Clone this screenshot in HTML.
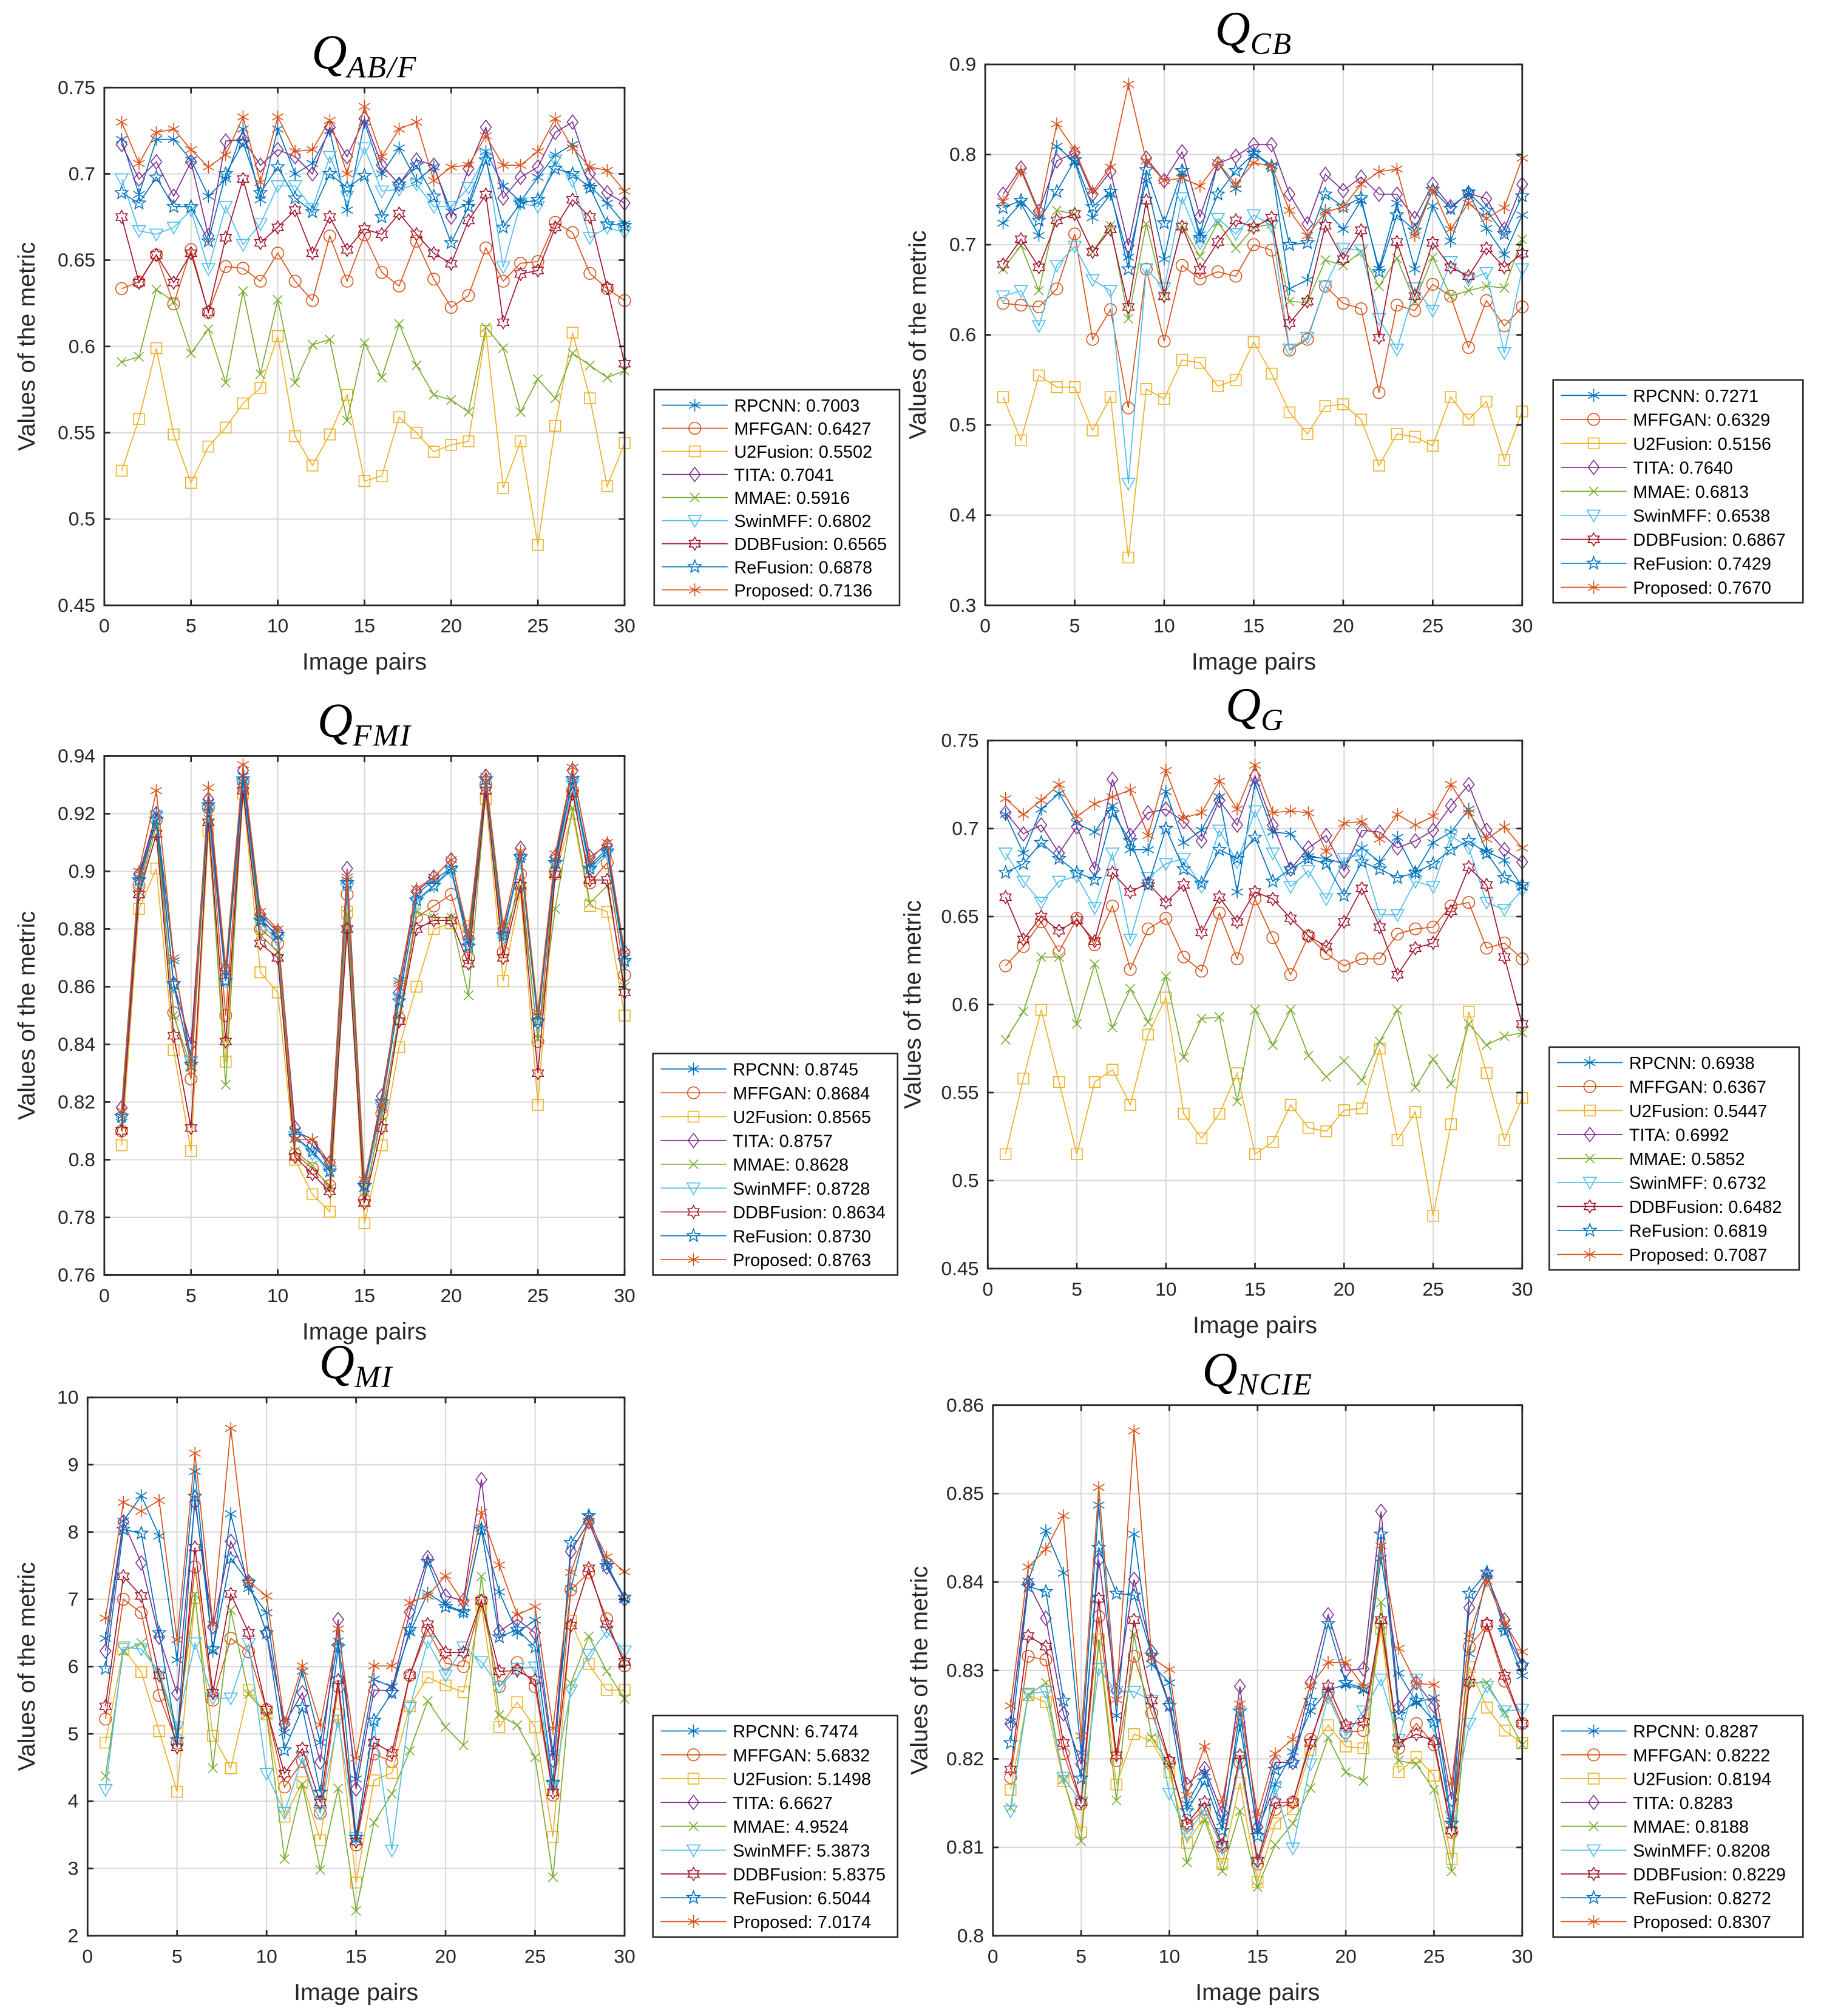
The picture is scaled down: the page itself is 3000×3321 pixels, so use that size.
<!DOCTYPE html>
<html><head><meta charset="utf-8"><title>Fusion metrics</title>
<style>html,body{margin:0;padding:0;background:#fff}svg{display:block}</style></head>
<body>
<svg id="fig" xmlns="http://www.w3.org/2000/svg" width="3000" height="3321" viewBox="0 0 1414 1565.3" preserveAspectRatio="none"></svg>
<script>
const methods = ["RPCNN","MFFGAN","U2Fusion","TITA","MMAE","SwinMFF","DDBFusion","ReFusion","Proposed"];
const colors = ["#0072BD","#D95319","#EDB120","#7E2F8E","#77AC30","#4DBEEE","#A2142F","#0072BD","#D95319"];
const markers = ["ast","o","s","d","x","v","h","p","ast"];
const xCats = Array.from({length:30},(_, i)=>i+1);

const qabfMeans = ["0.7003","0.6427","0.5502","0.7041","0.5916","0.6802","0.6565","0.6878","0.7136"];
const qcbMeans = ["0.7271","0.6329","0.5156","0.7640","0.6813","0.6538","0.6867","0.7429","0.7670"];
const qfmiMeans = ["0.8745","0.8684","0.8565","0.8757","0.8628","0.8728","0.8634","0.8730","0.8763"];
const qgMeans = ["0.6938","0.6367","0.5447","0.6992","0.5852","0.6732","0.6482","0.6819","0.7087"];
const qmiMeans = ["6.7474","5.6832","5.1498","6.6627","4.9524","5.3873","5.8375","6.5044","7.0174"];
const qncieMeans = ["0.8287","0.8222","0.8194","0.8283","0.8188","0.8208","0.8229","0.8272","0.8307"];

// Q_AB/F
const qabfRPCNN=[0.72,0.688,0.72,0.72,0.708,0.687,0.697,0.726,0.685,0.726,0.70,0.706,0.725,0.679,0.73,0.70,0.715,0.696,0.704,0.678,0.683,0.713,0.693,0.684,0.698,0.711,0.717,0.693,0.683,0.671];
const qabfMFFGAN=[0.6335,0.6374,0.6531,0.6246,0.6561,0.6197,0.6463,0.6453,0.6378,0.6541,0.6378,0.6266,0.664,0.6378,0.6646,0.6429,0.635,0.661,0.639,0.6226,0.6295,0.6571,0.6378,0.6482,0.6492,0.6719,0.666,0.6423,0.6335,0.6266];
const qabfU2Fusion=[0.528,0.558,0.599,0.549,0.521,0.542,0.553,0.567,0.576,0.606,0.548,0.531,0.549,0.572,0.522,0.525,0.559,0.550,0.539,0.543,0.545,0.609,0.518,0.545,0.485,0.554,0.608,0.570,0.519,0.544];
const qabfTITA=[0.717,0.697,0.707,0.687,0.707,0.664,0.719,0.72,0.705,0.714,0.71,0.70,0.727,0.71,0.732,0.705,0.694,0.708,0.705,0.675,0.703,0.727,0.686,0.698,0.704,0.724,0.73,0.70,0.689,0.683];
const qabfMMAE=[0.591,0.594,0.633,0.626,0.596,0.610,0.579,0.632,0.584,0.627,0.579,0.601,0.604,0.557,0.602,0.582,0.613,0.589,0.572,0.569,0.562,0.611,0.599,0.562,0.581,0.570,0.596,0.589,0.582,0.586];
const qabfSwinMFF=[0.697,0.667,0.665,0.669,0.679,0.645,0.681,0.659,0.671,0.693,0.693,0.68,0.71,0.687,0.715,0.69,0.691,0.694,0.681,0.681,0.692,0.711,0.646,0.683,0.681,0.708,0.696,0.663,0.669,0.666];
const qabfDDBFusion=[0.675,0.637,0.653,0.637,0.654,0.620,0.663,0.697,0.660,0.669,0.679,0.654,0.675,0.656,0.668,0.665,0.677,0.665,0.654,0.648,0.673,0.688,0.614,0.642,0.644,0.669,0.685,0.675,0.634,0.590];
const qabfReFusion=[0.689,0.683,0.698,0.681,0.681,0.661,0.70,0.718,0.689,0.704,0.686,0.678,0.70,0.692,0.699,0.675,0.694,0.705,0.687,0.66,0.681,0.708,0.669,0.683,0.685,0.703,0.70,0.692,0.671,0.67];
const qabfProposed=[0.730,0.706,0.724,0.726,0.714,0.704,0.711,0.733,0.695,0.733,0.713,0.714,0.731,0.70,0.739,0.71,0.726,0.73,0.696,0.704,0.705,0.722,0.705,0.705,0.713,0.732,0.715,0.704,0.702,0.69];

// Q_CB
const qcbRPCNN=[0.724,0.746,0.710,0.809,0.792,0.730,0.756,0.686,0.771,0.684,0.780,0.711,0.791,0.762,0.802,0.788,0.651,0.661,0.738,0.717,0.749,0.673,0.746,0.673,0.743,0.704,0.758,0.718,0.689,0.733];
const qcbMFFGAN=[0.635,0.633,0.631,0.651,0.712,0.595,0.628,0.519,0.673,0.593,0.677,0.662,0.670,0.665,0.700,0.694,0.583,0.595,0.654,0.635,0.629,0.536,0.633,0.627,0.656,0.643,0.586,0.638,0.610,0.631];
const qcbU2Fusion=[0.531,0.483,0.555,0.542,0.542,0.494,0.531,0.353,0.540,0.529,0.572,0.569,0.543,0.550,0.592,0.557,0.514,0.490,0.521,0.523,0.506,0.455,0.490,0.487,0.477,0.531,0.506,0.526,0.461,0.515];
const qcbTITA=[0.756,0.785,0.737,0.793,0.802,0.756,0.781,0.699,0.796,0.771,0.803,0.731,0.790,0.798,0.811,0.811,0.756,0.723,0.778,0.760,0.775,0.756,0.756,0.729,0.767,0.742,0.757,0.751,0.717,0.767];
const qcbMMAE=[0.673,0.699,0.649,0.738,0.734,0.692,0.721,0.618,0.723,0.643,0.721,0.687,0.725,0.696,0.719,0.723,0.637,0.636,0.683,0.677,0.692,0.654,0.685,0.637,0.686,0.643,0.649,0.654,0.652,0.706];
const qcbSwinMFF=[0.643,0.649,0.610,0.677,0.698,0.661,0.649,0.435,0.673,0.652,0.752,0.702,0.729,0.712,0.733,0.721,0.584,0.597,0.654,0.696,0.694,0.618,0.584,0.652,0.627,0.681,0.661,0.669,0.580,0.673];
const qcbDDBFusion=[0.678,0.706,0.675,0.727,0.734,0.692,0.717,0.631,0.749,0.643,0.720,0.672,0.703,0.727,0.719,0.730,0.613,0.637,0.721,0.684,0.716,0.597,0.703,0.643,0.702,0.675,0.665,0.696,0.675,0.690];
const qcbReFusion=[0.741,0.749,0.727,0.759,0.794,0.742,0.759,0.673,0.783,0.724,0.782,0.708,0.756,0.782,0.801,0.787,0.700,0.702,0.756,0.742,0.752,0.670,0.733,0.716,0.761,0.740,0.758,0.738,0.712,0.754];
const qcbProposed=[0.748,0.782,0.735,0.834,0.805,0.759,0.786,0.878,0.793,0.771,0.774,0.765,0.791,0.767,0.791,0.787,0.738,0.710,0.736,0.742,0.767,0.781,0.784,0.710,0.761,0.717,0.746,0.729,0.741,0.796];

// Q_FMI
const qfmiRPCNN=[.815,.898,.920,.869,.835,.924,.865,.933,.884,.877,.810,.807,.797,.897,.790,.818,.862,.892,.897,.901,.876,.931,.878,.905,.850,.904,.932,.902,.908,.870];
const qfmiMFFGAN=[.810,.895,.918,.851,.828,.922,.850,.931,.880,.875,.802,.797,.791,.892,.786,.816,.849,.884,.888,.892,.870,.930,.872,.899,.841,.900,.928,.896,.903,.864];
const qfmiU2Fusion=[.805,.887,.901,.838,.803,.914,.834,.927,.865,.858,.800,.788,.782,.886,.778,.805,.839,.860,.880,.882,.881,.925,.862,.893,.819,.899,.920,.888,.886,.850];
const qfmiTITA=[.818,.899,.920,.861,.840,.925,.866,.935,.885,.879,.811,.805,.799,.901,.792,.822,.858,.893,.898,.904,.877,.933,.880,.908,.848,.905,.935,.905,.909,.872];
const qfmiMMAE=[.812,.893,.916,.850,.832,.918,.826,.930,.878,.872,.803,.798,.790,.885,.787,.815,.850,.886,.884,.884,.857,.928,.877,.895,.842,.887,.922,.889,.895,.860];
const qfmiSwinMFF=[.814,.896,.919,.860,.834,.921,.862,.930,.882,.876,.808,.802,.796,.894,.790,.818,.856,.889,.895,.900,.875,.931,.877,.904,.847,.902,.930,.900,.906,.868];
const qfmiDDBFusion=[.810,.892,.913,.843,.811,.917,.841,.928,.875,.870,.801,.795,.789,.880,.785,.811,.848,.880,.883,.883,.868,.928,.870,.895,.830,.899,.927,.897,.897,.858];
const qfmiReFusion=[.815,.897,.918,.861,.833,.923,.862,.932,.883,.878,.808,.803,.796,.896,.791,.820,.855,.890,.895,.901,.874,.932,.878,.905,.848,.903,.932,.901,.907,.869];
const qfmiProposed=[.817,.900,.928,.870,.832,.929,.867,.937,.886,.880,.807,.807,.799,.898,.793,.819,.861,.894,.898,.904,.878,.933,.881,.907,.851,.906,.936,.904,.910,.872];

// Q_G
const qgRPCNN=[0.708,0.686,0.711,0.720,0.703,0.698,0.713,0.688,0.688,0.721,0.692,0.699,0.718,0.664,0.726,0.698,0.697,0.684,0.683,0.680,0.689,0.681,0.695,0.675,0.692,0.698,0.711,0.687,0.682,0.667];
const qgMFFGAN=[0.622,0.633,0.647,0.630,0.649,0.634,0.656,0.620,0.643,0.649,0.627,0.619,0.652,0.626,0.660,0.638,0.617,0.639,0.629,0.622,0.626,0.626,0.640,0.643,0.644,0.656,0.658,0.632,0.635,0.626];
const qgU2Fusion=[0.515,0.558,0.597,0.556,0.515,0.556,0.563,0.543,0.583,0.604,0.538,0.524,0.538,0.561,0.515,0.522,0.543,0.530,0.528,0.540,0.541,0.575,0.523,0.539,0.480,0.532,0.596,0.561,0.523,0.547];
const qgTITA=[0.709,0.697,0.702,0.686,0.701,0.677,0.728,0.696,0.709,0.711,0.704,0.693,0.716,0.702,0.730,0.702,0.677,0.689,0.696,0.676,0.699,0.698,0.689,0.693,0.699,0.713,0.725,0.699,0.688,0.681];
const qgMMAE=[0.580,0.596,0.627,0.627,0.589,0.623,0.587,0.609,0.590,0.616,0.570,0.592,0.593,0.545,0.597,0.577,0.597,0.571,0.559,0.568,0.557,0.579,0.597,0.553,0.569,0.555,0.589,0.577,0.582,0.584];
const qgSwinMFF=[0.686,0.670,0.658,0.670,0.673,0.655,0.686,0.637,0.672,0.680,0.683,0.667,0.699,0.681,0.710,0.686,0.667,0.676,0.660,0.683,0.685,0.651,0.651,0.670,0.667,0.696,0.689,0.658,0.654,0.665];
const qgDDBFusion=[0.661,0.637,0.650,0.642,0.648,0.636,0.675,0.664,0.669,0.658,0.668,0.641,0.661,0.647,0.664,0.660,0.649,0.639,0.633,0.647,0.666,0.644,0.617,0.632,0.635,0.653,0.678,0.668,0.627,0.589];
const qgReFusion=[0.675,0.680,0.692,0.683,0.675,0.671,0.709,0.693,0.668,0.700,0.677,0.669,0.688,0.683,0.695,0.670,0.677,0.683,0.680,0.662,0.681,0.677,0.672,0.675,0.680,0.688,0.693,0.686,0.672,0.668];
const qgProposed=[0.717,0.708,0.716,0.725,0.707,0.714,0.718,0.722,0.696,0.733,0.706,0.709,0.727,0.711,0.736,0.709,0.710,0.709,0.687,0.703,0.704,0.694,0.708,0.702,0.707,0.725,0.709,0.694,0.701,0.689];

// Q_MI
const qmiRPCNN=[6.42,8.16,8.54,7.94,6.10,8.90,6.23,8.27,7.16,6.80,5.02,5.93,4.87,6.38,4.33,5.81,5.70,6.50,7.09,6.92,6.81,8.06,7.11,6.50,6.69,4.72,7.16,8.23,7.53,7.00];
const qmiMFFGAN=[5.22,7.00,6.80,5.57,4.86,7.48,5.50,6.42,6.22,5.36,4.21,4.59,3.82,5.70,3.35,4.70,4.59,5.87,6.54,6.05,6.00,6.98,5.70,6.06,5.70,4.09,7.14,7.40,6.71,6.01];
const qmiU2Fusion=[4.87,6.26,5.92,5.04,4.14,7.02,4.97,4.49,5.65,5.29,3.77,4.28,3.42,5.29,2.79,4.31,4.42,5.41,5.84,5.72,5.62,6.91,5.10,5.47,5.10,3.47,6.68,6.04,5.65,5.65];
const qmiTITA=[6.23,8.15,7.54,6.44,5.60,8.44,6.59,7.86,7.26,6.50,5.15,5.61,4.58,6.70,4.18,5.65,5.64,6.81,7.62,7.05,6.98,8.78,6.52,6.70,6.50,4.61,7.71,8.15,7.48,7.00];
const qmiMMAE=[4.37,6.23,6.35,5.87,5.03,7.07,4.49,6.84,5.59,5.29,3.14,4.25,2.98,4.19,2.37,3.68,4.11,4.75,5.49,5.10,4.83,7.34,5.28,5.13,4.65,2.87,5.75,6.45,5.93,5.52];
const qmiSwinMFF=[4.17,6.29,6.26,5.92,5.10,6.35,5.53,5.53,6.34,4.41,3.83,4.65,3.83,5.20,3.46,5.15,3.27,5.39,6.37,5.87,6.29,6.07,5.70,5.97,5.99,4.22,5.65,6.18,6.52,6.23];
const qmiDDBFusion=[5.41,7.34,7.05,5.87,4.80,7.77,5.61,7.08,6.50,5.36,4.41,4.78,3.98,5.80,3.40,4.87,4.72,5.87,6.63,6.21,6.21,6.98,5.93,5.94,5.80,4.13,6.61,7.46,6.63,6.07];
const qmiReFusion=[5.97,8.04,7.98,6.50,4.91,8.53,6.26,7.61,7.25,6.50,4.76,5.39,4.13,6.29,3.46,5.20,5.61,6.55,7.56,6.89,6.81,8.04,6.44,6.55,6.29,4.28,7.84,8.24,7.50,7.03];
const qmiProposed=[6.72,8.44,8.31,8.47,6.40,9.17,6.63,9.54,7.26,7.05,5.17,6.01,5.13,6.56,4.64,6.01,6.01,6.95,7.05,7.35,6.95,8.29,7.51,6.77,6.89,5.08,7.40,8.16,7.63,7.41];

// Q_NCIE
const qncieRPCNN=[.8242,.8401,.8458,.8410,.8207,.8487,.8249,.8454,.8307,.8286,.8149,.8185,.8129,.8238,.8119,.8171,.8208,.8254,.8278,.8284,.8278,.8427,.8297,.8264,.8269,.8130,.8319,.8409,.8347,.8294];
const qncieMFFGAN=[.8179,.8316,.8312,.8206,.8149,.8361,.8198,.8316,.8252,.8196,.8125,.8143,.8101,.8196,.8081,.8143,.8151,.8222,.8274,.8230,.8232,.8353,.8212,.8240,.8216,.8117,.8327,.8351,.8288,.8240];
const qncieU2Fusion=[.8165,.8272,.8264,.8175,.8117,.8335,.8171,.8228,.8220,.8185,.8105,.8135,.8081,.8173,.8061,.8127,.8143,.8210,.8238,.8214,.8212,.8347,.8185,.8202,.8181,.8087,.8304,.8258,.8232,.8218];
const qncieTITA=[.8240,.8399,.8359,.8251,.8194,.8425,.8277,.8403,.8321,.8262,.8171,.8189,.8139,.8282,.8123,.8196,.8196,.8286,.8363,.8300,.8302,.8480,.8258,.8286,.8260,.8154,.8371,.8407,.8357,.8306];
const qncieMMAE=[.8145,.8272,.8286,.8177,.8107,.8333,.8153,.8341,.8224,.8194,.8083,.8131,.8073,.8141,.8055,.8103,.8127,.8167,.8224,.8185,.8175,.8377,.8198,.8194,.8165,.8073,.8286,.8286,.8252,.8216];
const qncieSwinMFF=[.8141,.8274,.8276,.8179,.8151,.8302,.8276,.8276,.8266,.8161,.8115,.8143,.8099,.8198,.8083,.8167,.8099,.8194,.8270,.8226,.8254,.8290,.8222,.8290,.8238,.8135,.8240,.8282,.8254,.8256];
const qncieDDBFusion=[.8188,.8339,.8327,.8218,.8151,.8381,.8204,.8357,.8266,.8198,.8127,.8151,.8103,.8204,.8085,.8151,.8151,.8218,.8282,.8238,.8242,.8357,.8218,.8228,.8220,.8119,.8286,.8353,.8294,.8240];
const qncieReFusion=[.8218,.8395,.8389,.8266,.8178,.8439,.8387,.8385,.8317,.8260,.8141,.8175,.8119,.8254,.8113,.8188,.8196,.8266,.8353,.8286,.8280,.8454,.8250,.8266,.8242,.8127,.8387,.8411,.8345,.8306];
const qncieProposed=[.8260,.8417,.8437,.8475,.8226,.8507,.8267,.8571,.8314,.8301,.8159,.8214,.8151,.8262,.8137,.8206,.8222,.8283,.8309,.8309,.8282,.8441,.8325,.8285,.8284,.8172,.8339,.8401,.8354,.8321];

const NS="http://www.w3.org/2000/svg";
const svg=document.getElementById('fig');
function el(tag,attrs,parent){const e=document.createElementNS(NS,tag);for(const k in attrs)e.setAttribute(k,attrs[k]);(parent||svg).appendChild(e);return e;}

function marker(g,type,cx,cy,col){
  const sw=0.75;let m;
  if(type==="ast"){
    m=el('g',{stroke:col,'stroke-width':sw,fill:'none'},g);
    const r=5;
    el('line',{x1:cx,y1:cy-r,x2:cx,y2:cy+r},m);
    el('line',{x1:cx-r*0.87,y1:cy-r*0.5,x2:cx+r*0.87,y2:cy+r*0.5},m);
    el('line',{x1:cx-r*0.87,y1:cy+r*0.5,x2:cx+r*0.87,y2:cy-r*0.5},m);
  }else if(type==="o"){m=el('circle',{cx:cx,cy:cy,r:4.6,fill:'none',stroke:col,'stroke-width':sw},g);}
  else if(type==="s"){m=el('rect',{x:cx-4.2,y:cy-4.2,width:8.4,height:8.4,fill:'none',stroke:col,'stroke-width':sw},g);}
  else if(type==="d"){m=el('polygon',{points:`${cx},${cy-5.5} ${cx+4.2},${cy} ${cx},${cy+5.5} ${cx-4.2},${cy}`,fill:'none',stroke:col,'stroke-width':sw},g);}
  else if(type==="x"){m=el('g',{stroke:col,'stroke-width':sw},g);const r=3.6;
    el('line',{x1:cx-r,y1:cy-r,x2:cx+r,y2:cy+r},m);el('line',{x1:cx-r,y1:cy+r,x2:cx+r,y2:cy-r},m);}
  else if(type==="v"){m=el('polygon',{points:`${cx-5},${cy-4} ${cx+5},${cy-4} ${cx},${cy+5}`,fill:'none',stroke:col,'stroke-width':sw},g);}
  else if(type==="h"){let p=[];for(let i=0;i<12;i++){const a=-Math.PI/2+i*Math.PI/6;const r=(i%2===0)?5:2.9;p.push((cx+r*Math.cos(a)).toFixed(2)+','+(cy+r*Math.sin(a)).toFixed(2));}
    m=el('polygon',{points:p.join(' '),fill:'none',stroke:col,'stroke-width':sw},g);}
  else if(type==="p"){let p=[];for(let i=0;i<10;i++){const a=-Math.PI/2+i*Math.PI/5;const r=(i%2===0)?5.2:2.2;p.push((cx+r*Math.cos(a)).toFixed(2)+','+(cy+r*Math.sin(a)).toFixed(2));}
    m=el('polygon',{points:p.join(' '),fill:'none',stroke:col,'stroke-width':sw},g);}
  
  
}

function fmt(v,d){return String(+v.toFixed(d));}

function drawPlot(cfg){
  const {id,L,R,T,B,ymin,ymax,ystep,dec,series,means,legend,ylabX,title,sub}=cfg;
  const g=el('g',{});
  
  
  const xs=v=>L+(v-0)/(30-0)*(R-L);
  const ys=v=>B-(v-ymin)/(ymax-ymin)*(B-T);
  const nY=Math.round((ymax-ymin)/ystep);
  const grid=el('g',{stroke:'#d9d9d9','stroke-width':1},g);
  
  
  for(let t=5;t<30;t+=5)el('line',{x1:xs(t),y1:T,x2:xs(t),y2:B},grid);
  for(let i=1;i<nY;i++){const v=ymin+i*ystep;el('line',{x1:L,y1:ys(v),x2:R,y2:ys(v)},grid);}
  series.forEach((data,si)=>{
    const sg=el('g',{},g);
    
    
    const pts=data.map((v,i)=>xs(xCats[i]).toFixed(2)+','+ys(v).toFixed(2)).join(' ');
    const pl=el('polyline',{points:pts,fill:'none',stroke:colors[si],'stroke-width':0.8},sg);
    
    
    data.forEach((v,i)=>marker(sg,markers[si],xs(xCats[i]),ys(v),colors[si]));
  });
  const ax=el('g',{stroke:'#262626','stroke-width':1.3,fill:'none'},g);
  
  
  el('rect',{x:L,y:T,width:R-L,height:B-T},ax);
  const tl=4.5;
  for(let t=0;t<=30;t+=5){el('line',{x1:xs(t),y1:B,x2:xs(t),y2:B-tl},ax);el('line',{x1:xs(t),y1:T,x2:xs(t),y2:T+tl},ax);}
  for(let i=0;i<=nY;i++){const y=ys(ymin+i*ystep);el('line',{x1:L,y1:y,x2:L+tl,y2:y},ax);el('line',{x1:R,y1:y,x2:R-tl,y2:y},ax);}
  const lab=el('g',{'font-family':'Liberation Sans, sans-serif','font-size':15,fill:'#262626'},g);
  
  
  for(let t=0;t<=30;t+=5){const tx=el('text',{x:xs(t),y:B+21,'text-anchor':'middle'},lab);tx.textContent=String(t);}
  for(let i=0;i<=nY;i++){const v=ymin+i*ystep;const tx=el('text',{x:L-7,y:ys(v)+5,'text-anchor':'end'},lab);tx.textContent=fmt(v,dec);}
  const xl=el('text',{x:(L+R)/2,y:B+50,'text-anchor':'middle','font-family':'Liberation Sans, sans-serif','font-size':18.5,fill:'#262626'},g);
  xl.textContent='Image pairs';
  
  
  const cy=(T+B)/2;
  const yl=el('text',{x:ylabX,y:cy,'text-anchor':'middle','font-family':'Liberation Sans, sans-serif','font-size':18.5,fill:'#262626',transform:`rotate(-90 ${ylabX} ${cy})`,'dominant-baseline':'middle'},g);
  yl.textContent='Values of the metric';
  
  
  const tt=el('text',{x:(L+R)/2,y:T-15,'text-anchor':'middle','font-family':'Liberation Serif, serif','font-style':'italic','font-size':38,fill:'#000'},g);
  
  
  const q=el('tspan',{},tt);q.textContent='Q';
  const s=el('tspan',{'font-size':24,dy:7,'letter-spacing':'1'},tt);s.textContent=sub;
  const [lx1,ly1,lx2,ly2]=legend;
  const lg=el('g',{},g);
  
  
  el('rect',{x:lx1,y:ly1,width:lx2-lx1,height:ly2-ly1,fill:'#fff',stroke:'#262626','stroke-width':1.2},lg);
  const step=(ly2-ly1-24)/8;
  methods.forEach((m,i)=>{
    const ey=ly1+12+i*step;
    const eg=el('g',{},lg);
    
    
    el('line',{x1:lx1+6,y1:ey,x2:lx1+57,y2:ey,stroke:colors[i],'stroke-width':0.8},eg);
    marker(eg,markers[i],lx1+31.5,ey,colors[i]);
    const t=el('text',{x:lx1+62,y:ey+5,'font-family':'Liberation Sans, sans-serif','font-size':13.6,fill:'#000'},eg);
    t.textContent=m+': '+means[i];
  });
}

drawPlot({id:'qabf',L:81,R:485,T:68,B:470,ymin:0.45,ymax:0.75,ystep:0.05,dec:2,sub:'AB/F',ylabX:22,legend:[508,302.6,698.5,470],means:qabfMeans,
  series:[qabfRPCNN,qabfMFFGAN,qabfU2Fusion,qabfTITA,qabfMMAE,qabfSwinMFF,qabfDDBFusion,qabfReFusion,qabfProposed]});
drawPlot({id:'qcb',L:765,R:1182,T:50,B:470,ymin:0.3,ymax:0.9,ystep:0.1,dec:1,sub:'CB',ylabX:714,legend:[1206,295,1400,468],means:qcbMeans,
  series:[qcbRPCNN,qcbMFFGAN,qcbU2Fusion,qcbTITA,qcbMMAE,qcbSwinMFF,qcbDDBFusion,qcbReFusion,qcbProposed]});
drawPlot({id:'qfmi',L:81,R:485,T:587,B:990,ymin:0.76,ymax:0.94,ystep:0.02,dec:2,sub:'FMI',ylabX:22,legend:[507,818,697,990],means:qfmiMeans,
  series:[qfmiRPCNN,qfmiMFFGAN,qfmiU2Fusion,qfmiTITA,qfmiMMAE,qfmiSwinMFF,qfmiDDBFusion,qfmiReFusion,qfmiProposed]});
drawPlot({id:'qg',L:767,R:1182,T:575,B:985,ymin:0.45,ymax:0.75,ystep:0.05,dec:2,sub:'G',ylabX:710,legend:[1203,813,1397,986],means:qgMeans,
  series:[qgRPCNN,qgMFFGAN,qgU2Fusion,qgTITA,qgMMAE,qgSwinMFF,qgDDBFusion,qgReFusion,qgProposed]});
drawPlot({id:'qmi',L:68,R:485,T:1085,B:1503,ymin:2,ymax:10,ystep:1,dec:0,sub:'MI',ylabX:22,legend:[507,1332,697,1504],means:qmiMeans,
  series:[qmiRPCNN,qmiMFFGAN,qmiU2Fusion,qmiTITA,qmiMMAE,qmiSwinMFF,qmiDDBFusion,qmiReFusion,qmiProposed]});
drawPlot({id:'qncie',L:771,R:1182,T:1091,B:1503,ymin:0.8,ymax:0.86,ystep:0.01,dec:2,sub:'NCIE',ylabX:715,legend:[1206,1332,1400,1504],means:qncieMeans,
  series:[qncieRPCNN,qncieMFFGAN,qncieU2Fusion,qncieTITA,qncieMMAE,qncieSwinMFF,qncieDDBFusion,qncieReFusion,qncieProposed]});
</script>
</body></html>
